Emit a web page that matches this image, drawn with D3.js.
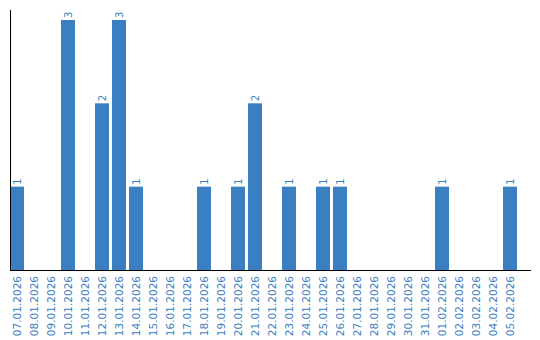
<!DOCTYPE html>
<html>
<head>
<meta charset="utf-8">
<script src="https://cdn.jsdelivr.net/npm/d3@7"></script>
<style>
    body { margin: 0; background: #fff; }
    text { font-family: "DejaVu Sans", sans-serif; fill: #3a7fc1; }
</style>
</head>
<body>
<div id="chart"></div>
<script>
var dates = ["07.01.2026", "08.01.2026", "09.01.2026", "10.01.2026", "11.01.2026",
    "12.01.2026", "13.01.2026", "14.01.2026", "15.01.2026", "16.01.2026",
    "17.01.2026", "18.01.2026", "19.01.2026", "20.01.2026", "21.01.2026",
    "22.01.2026", "23.01.2026", "24.01.2026", "25.01.2026", "26.01.2026",
    "27.01.2026", "28.01.2026", "29.01.2026", "30.01.2026", "31.01.2026",
    "01.02.2026", "02.02.2026", "03.02.2026", "04.02.2026", "05.02.2026"];
var counts = [1, 0, 0, 3, 0, 2, 3, 1, 0, 0,
    0, 1, 0, 1, 2, 0, 1, 0, 1, 1,
    0, 0, 0, 0, 0, 1, 0, 0, 0, 1];

var width = 540,
    height = 340,
    left = 10,
    baseY = 270,
    barColor = "#3a7fc1";

var svg = d3.select("#chart").append("svg")
    .attr("width", width)
    .attr("height", height);

var xScale = d3.scaleBand()
    .domain(dates)
    .range([left, left + 30 * 17 - 3])
    .paddingInner(3 / 17)
    .paddingOuter(0);

var yScale = d3.scaleLinear()
    .domain([0, d3.max(counts)])
    .range([baseY, 20]);

var data = dates.map(function (d, i) {
    return { date: d, value: counts[i] };
});

svg.selectAll(".bar")
    .data(data)
    .enter().append("rect")
    .attr("class", "bar")
    .attr("x", function (d) { return xScale(d.date); })
    .attr("y", function (d) { return yScale(d.value); })
    .attr("width", xScale.bandwidth())
    .attr("height", function (d) { return baseY - yScale(d.value); })
    .style("fill", barColor);

// value labels above the bars
svg.selectAll(".val")
    .data(data.filter(function (d) { return d.value > 0; }))
    .enter().append("text")
    .attr("class", "val")
    .attr("transform", function (d) {
        var cx = xScale(d.date) + xScale.bandwidth() / 2;
        return "translate(" + cx + "," + (yScale(d.value) - 2) + ") rotate(-90)";
    })
    .attr("dy", "0.35em")
    .style("font-size", "10px")
    .text(function (d) { return d.value; });

// x axis
var xAxis = d3.axisBottom(xScale).tickSize(0).tickPadding(0);
var gx = svg.append("g")
    .attr("transform", "translate(0," + baseY + ")")
    .call(xAxis);
gx.select(".domain").remove();
gx.selectAll("text")
    .attr("transform", "translate(0,6) rotate(-90)")
    .attr("x", 0)
    .attr("y", 0)
    .attr("dy", "0.35em")
    .style("text-anchor", "end")
    .style("font-size", "10.5px")
    .style("fill", barColor);

svg.append("line")
    .attr("x1", left).attr("x2", 531)
    .attr("y1", baseY + 0.5).attr("y2", baseY + 0.5)
    .style("stroke", "#000");

svg.append("line")
    .attr("x1", left + 0.5).attr("x2", left + 0.5)
    .attr("y1", 10).attr("y2", baseY)
    .style("stroke", "#000");
</script>
</body>
</html>
